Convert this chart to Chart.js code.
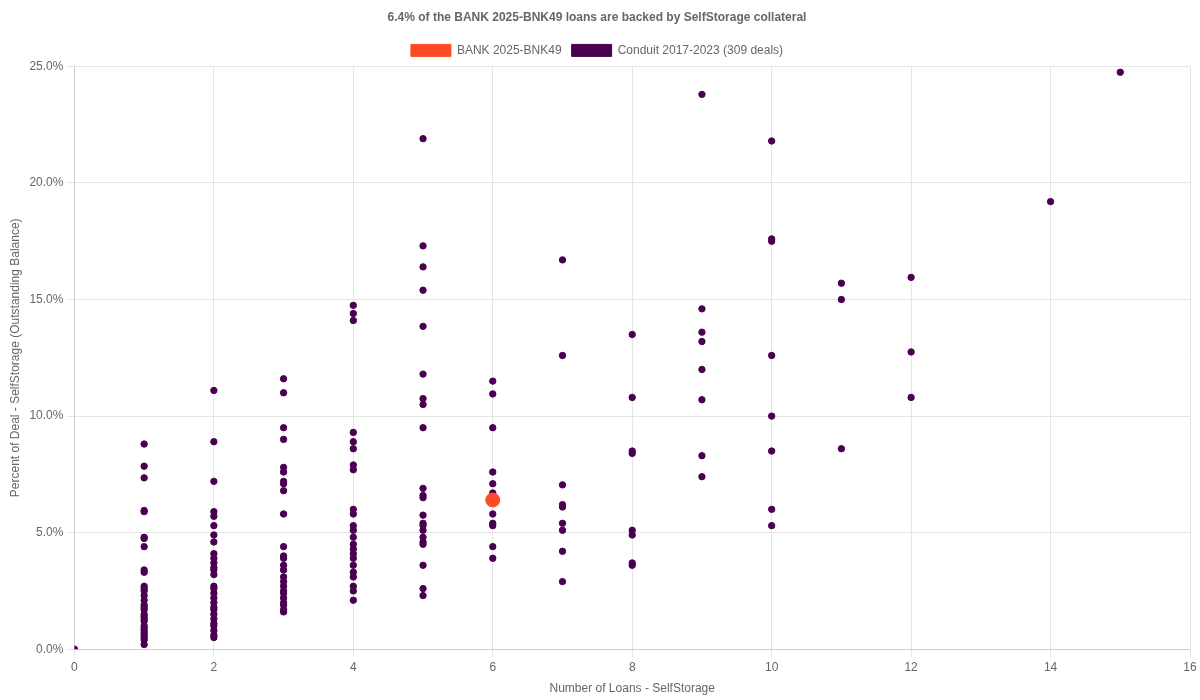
<!DOCTYPE html>
<html>
<head>
<meta charset="utf-8">
<script src="https://cdn.jsdelivr.net/npm/chart.js@4"></script>
<style>
  body { margin: 0; background: #fff; }
  #wrap { width: 1200px; height: 700px; }
</style>
</head>
<body>
<div id="wrap"><canvas id="chart"></canvas></div>
<script>
// loan counts and the percent values seen at each count
const loanCounts = [0, 1, 2, 3, 4, 5, 6, 7, 8, 9, 10, 11, 12, 14, 15];
const conduitPct = [
    [0],
    [8.8, 7.85, 7.35, 5.95, 5.9, 4.8, 4.75, 4.4, 3.4, 3.3, 2.7, 2.6, 2.5, 2.3, 2.1, 1.9, 1.8, 1.7, 1.5, 1.4, 1.3, 1.2, 1.0, 0.9, 0.8, 0.7, 0.6, 0.5, 0.4, 0.2],
    [11.1, 8.9, 7.2, 5.9, 5.7, 5.3, 4.9, 4.6, 4.1, 3.9, 3.7, 3.5, 3.4, 3.2, 2.7, 2.6, 2.4, 2.2, 2.0, 1.8, 1.7, 1.5, 1.3, 1.1, 1.0, 0.8, 0.6, 0.5],
    [11.6, 11.0, 9.5, 9.0, 7.8, 7.6, 7.2, 7.1, 6.8, 5.8, 4.4, 4.0, 3.9, 3.6, 3.4, 3.1, 2.9, 2.7, 2.5, 2.4, 2.2, 2.0, 1.9, 1.7, 1.6],
    [14.75, 14.4, 14.1, 9.3, 8.9, 8.6, 7.9, 7.7, 6.0, 5.8, 5.3, 5.1, 4.8, 4.5, 4.3, 4.1, 3.9, 3.6, 3.3, 3.1, 2.7, 2.5, 2.1],
    [21.9, 17.3, 16.4, 15.4, 13.85, 11.8, 10.75, 10.5, 9.5, 6.9, 6.6, 6.5, 5.75, 5.4, 5.3, 5.1, 4.8, 4.6, 4.5, 3.6, 2.6, 2.3],
    [11.5, 10.95, 9.5, 7.6, 7.1, 6.7, 5.8, 5.4, 5.3, 4.4, 3.9],
    [16.7, 12.6, 7.05, 6.2, 6.1, 5.4, 5.1, 4.2, 2.9],
    [13.5, 10.8, 8.5, 8.4, 5.1, 4.9, 3.7, 3.6],
    [23.8, 14.6, 13.6, 13.2, 12.0, 10.7, 8.3, 7.4],
    [21.8, 17.6, 17.5, 12.6, 10.0, 8.5, 6.0, 5.3],
    [15.7, 15.0, 8.6],
    [15.95, 12.75, 10.8],
    [19.2],
    [24.75]
];
const bankCount = 6;
const bankPct = 6.4;

const conduitPoints = [];
loanCounts.forEach((n, i) => {
    conduitPct[i].forEach(v => conduitPoints.push({ x: n, y: v }));
});

new Chart(document.getElementById('chart').getContext('2d'), {
    type: 'scatter',
    data: {
        datasets: [{
            label: 'BANK 2025-BNK49',
            data: [{ x: bankCount, y: bankPct }],
            backgroundColor: '#ff4a26',
            borderColor: '#ff4a26',
            pointRadius: 7
        }, {
            label: 'Conduit 2017-2023 (309 deals)',
            data: conduitPoints,
            backgroundColor: '#4a0050',
            borderColor: '#4a0050',
            pointRadius: 3.2
        }]
    },
    options: {
        responsive: true,
        maintainAspectRatio: false,
        animation: false,
        layout: { padding: { left: 4, right: 10, top: 0, bottom: 0 } },
        plugins: {
            title: {
                display: true,
                text: '6.4% of the BANK 2025-BNK49 loans are backed by SelfStorage collateral',
                color: '#666',
                font: { size: 12, weight: 'bold', family: 'Liberation Sans, Arial, sans-serif' },
                padding: { top: 10, bottom: 10 }
            },
            legend: {
                position: 'top',
                labels: {
                    boxWidth: 40,
                    boxHeight: 12,
                    color: '#666',
                    font: { size: 12, family: 'Liberation Sans, Arial, sans-serif' }
                }
            }
        },
        scales: {
            x: {
                min: 0,
                max: 16,
                ticks: { stepSize: 2, color: '#666', font: { size: 12 } },
                title: { display: true, text: 'Number of Loans - SelfStorage', color: '#666', font: { size: 12 } },
                grid: { color: '#e5e5e5' }
            },
            y: {
                min: 0,
                max: 25,
                ticks: {
                    stepSize: 5,
                    color: '#666',
                    font: { size: 12 },
                    callback: v => v.toFixed(1) + '%'
                },
                title: { display: true, text: 'Percent of Deal - SelfStorage (Outstanding Balance)', color: '#666', font: { size: 12 } },
                grid: { color: '#e5e5e5' }
            }
        }
    }
});
</script>
</body>
</html>
